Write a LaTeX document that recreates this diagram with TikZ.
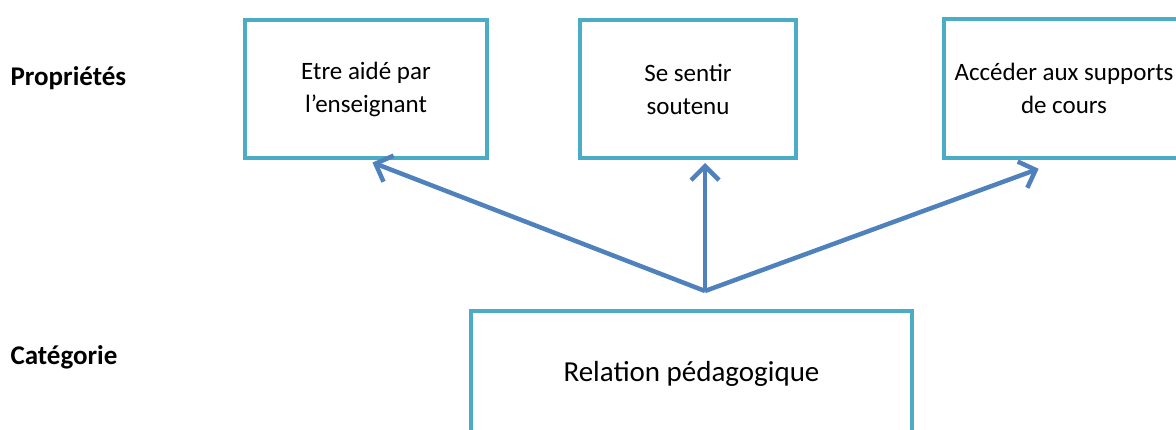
\documentclass[tikz,border=0pt]{standalone}
\usepackage{fontspec}
\setmainfont{Carlito}
\usetikzlibrary{arrows.meta}
\definecolor{boxteal}{HTML}{4BACC6}
\definecolor{arrowblue}{HTML}{4F81BD}
\tikzset{
  prop box/.style={
    draw=boxteal,
    line width=4pt,
    fill=white,
    align=center,
    font=\fontsize{25}{33}\selectfont,
  },
  level label/.style={
    anchor=west,
    font=\fontsize{27}{33}\selectfont\bfseries,
  },
  prop arrow/.style={
    draw=arrowblue,
    line width=4.5pt,
    -{Straight Barb[length=14pt, width=28pt, line width=4.5pt]},
  },
}
\begin{document}
\begin{tikzpicture}[x=1pt, y=-1pt]
        \useasboundingbox (0,0) rectangle (1176,429);
        \clip (0,0) rectangle (1176,429);

        \node[level label] (props) at (7,78)  {Propriétés};
        \node[level label] (categ) at (7,357) {Catégorie};

        \node[prop box, minimum width=242, minimum height=138] (aide)    at (366,89)   {Etre aidé par\\l’enseignant};
        \node[prop box, minimum width=216, minimum height=138] (soutenu) at (688,89)   {Se sentir\\soutenu};
        \node[prop box, minimum width=240, minimum height=139] (acces)   at (1064,88)  {Accéder aux supports\\de cours};
        \node[prop box, minimum width=441, minimum height=126,
              font=\fontsize{29}{35}\selectfont]                 (relation) at (691.5,374) {Relation pédagogique};

        \coordinate (hub) at (705,291);

        \draw[prop arrow, shorten >=7pt]  (hub) -- (aide.south);
        \draw[prop arrow, shorten >=3pt]  (hub) -- (hub |- soutenu.south);
        \draw[prop arrow, shorten >=27pt] (hub) -- (acces.south);
      \end{tikzpicture}
\end{document}
